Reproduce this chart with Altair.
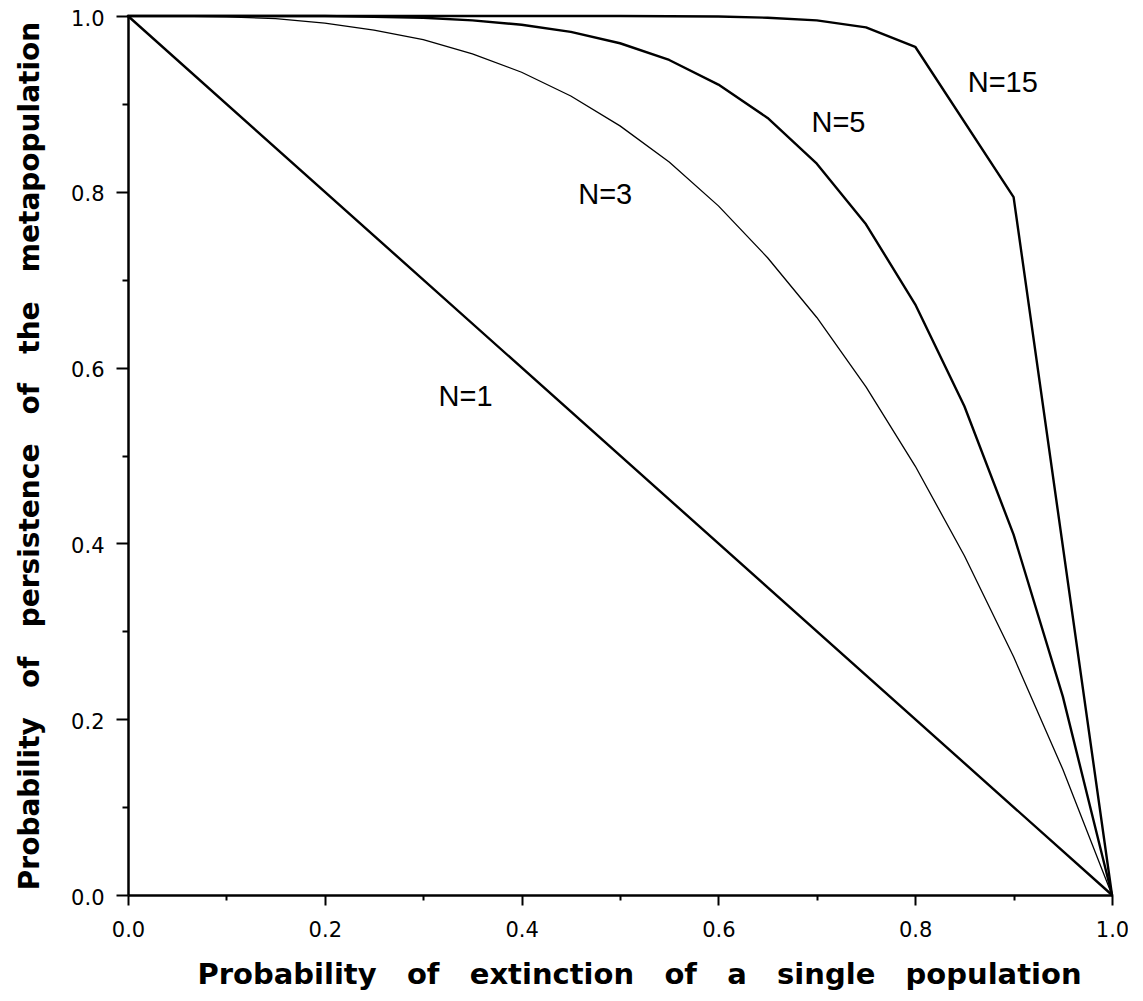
import altair as alt
import pandas as pd

# ---- data ----
x_n1 = [0.0, 1.0]
y_n1 = [1.0, 0.0]

x_n3 = [0.0, 0.05, 0.1, 0.15, 0.2, 0.25, 0.3, 0.35, 0.4, 0.45, 0.5,
        0.55, 0.6, 0.65, 0.7, 0.75, 0.8, 0.85, 0.9, 0.95, 1.0]
y_n3 = [1.0, 1.0, 0.999, 0.997, 0.992, 0.984, 0.973, 0.957, 0.936, 0.909, 0.875,
        0.834, 0.784, 0.725, 0.657, 0.578, 0.488, 0.386, 0.271, 0.143, 0.0]

x_n5 = [0.0, 0.05, 0.1, 0.15, 0.2, 0.25, 0.3, 0.35, 0.4, 0.45, 0.5,
        0.55, 0.6, 0.65, 0.7, 0.75, 0.8, 0.85, 0.9, 0.95, 1.0]
y_n5 = [1.0, 1.0, 1.0, 1.0, 1.0, 0.999, 0.998, 0.995, 0.990, 0.982, 0.969,
        0.950, 0.922, 0.884, 0.832, 0.763, 0.672, 0.556, 0.410, 0.226, 0.0]

x_n15 = [0.0, 0.1, 0.2, 0.3, 0.4, 0.5, 0.6, 0.65, 0.7, 0.75, 0.8, 0.9, 1.0]
y_n15 = [1.0, 1.0, 1.0, 1.0, 1.0, 1.0, 0.9995, 0.998, 0.995, 0.987, 0.965, 0.794, 0.0]

series_names = ["N=1", "N=3", "N=5", "N=15"]

label_text = ["N=1", "N=3", "N=5", "N=15"]
label_x = [0.343, 0.485, 0.722, 0.889]
label_y = [0.567, 0.796, 0.878, 0.924]

major_ticks = [0.0, 0.2, 0.4, 0.6, 0.8, 1.0]
minor_ticks = [0.1, 0.3, 0.5, 0.7, 0.9]

x_title_words = ["Probability", "of", "extinction", "of", "a", "single", "population"]
y_title_words = ["Probability", "of", "persistence", "of", "the", "metapopulation"]

# ---- styles ----
stroke_widths = {"N=1": 2.4, "N=3": 1.3, "N=5": 2.4, "N=15": 2.4}
gap = " \u00a0 "

rows = []
for name, xs, ys in zip(series_names, [x_n1, x_n3, x_n5, x_n15], [y_n1, y_n3, y_n5, y_n15]):
    for i, (xv, yv) in enumerate(zip(xs, ys)):
        rows.append({"series": name, "x": xv, "y": yv, "order": i, "w": stroke_widths[name]})
df = pd.DataFrame(rows)
labels_df = pd.DataFrame({"text": label_text, "x": label_x, "y": label_y})

scale = alt.Scale(domain=[0, 1], nice=False, zero=False)

x_major = alt.Axis(
    values=major_ticks, format=".1f", orient="bottom", grid=False,
    tickSize=10, tickWidth=2, tickColor="black",
    domainColor="black", domainWidth=2.5,
    labelFont="DejaVu Sans", labelFontSize=21, labelColor="black",
    labelPadding=14, labelFlush=False, labelOverlap=False,
    title=gap.join(x_title_words),
    titleFont="DejaVu Sans", titleFontWeight="bold", titleFontSize=29,
    titleColor="black", titlePadding=20, titleX=511,
)
y_major = alt.Axis(
    values=major_ticks, format=".1f", orient="left", grid=False,
    tickSize=12, tickWidth=2, tickColor="black",
    domainColor="black", domainWidth=2.5,
    labelFont="DejaVu Sans", labelFontSize=21, labelColor="black",
    labelPadding=12, labelOffset=3, labelFlush=False, labelOverlap=False,
    title=gap.join(y_title_words),
    titleFont="DejaVu Sans", titleFontWeight="bold", titleFontSize=28,
    titleColor="black", titlePadding=26,
)
x_minor = alt.Axis(values=minor_ticks, orient="bottom", grid=False, labels=False,
                   domain=False, tickSize=5, tickWidth=2, tickColor="black", title=None)
y_minor = alt.Axis(values=minor_ticks, orient="left", grid=False, labels=False,
                   domain=False, tickSize=6, tickWidth=2, tickColor="black", title=None)

lines = alt.Chart(df).mark_line(color="black", strokeCap="round", strokeJoin="round").encode(
    x=alt.X("x:Q", scale=scale, axis=x_major),
    y=alt.Y("y:Q", scale=scale, axis=y_major),
    detail="series:N",
    order="order:Q",
    strokeWidth=alt.StrokeWidth("w:Q", scale=None, legend=None),
)

minor = alt.Chart(df).mark_point(opacity=0).encode(
    x=alt.X("x:Q", scale=scale, axis=x_minor),
    y=alt.Y("y:Q", scale=scale, axis=y_minor),
)

texts = alt.Chart(labels_df).mark_text(
    font="Liberation Sans", fontSize=29, color="black", align="center", baseline="middle"
).encode(
    x=alt.X("x:Q", scale=scale, axis=None),
    y=alt.Y("y:Q", scale=scale, axis=None),
    text="text:N",
)

chart = alt.layer(lines, minor, texts).resolve_axis(
    x="independent", y="independent"
).properties(
    width=984, height=879,
    autosize=alt.AutoSizeParams(type="none"),
    padding={"left": 120, "top": 8, "right": 16, "bottom": 100},
    background="white",
).configure_view(stroke=None)

chart.save("out.html", embed_options={"renderer": "svg", "actions": False})
